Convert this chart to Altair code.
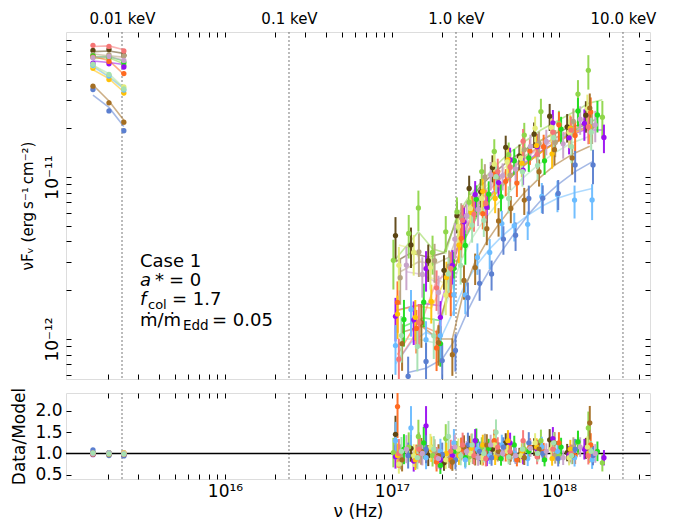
import altair as alt
import pandas as pd

FONT = "DejaVu Sans"

# ---------------- axis ranges / ticks ----------------
X_DOMAIN = [1.117e15, 3.51e18]
Y_DOMAIN = [5.66e-13, 7.86e-11]
R_DOMAIN = [0.40, 2.42]
X_TICKS = [2e15, 3e15, 4e15, 5e15, 6e15, 7e15, 8e15, 9e15,
           1e16, 2e16, 3e16, 4e16, 5e16, 6e16, 7e16, 8e16, 9e16,
           1e17, 2e17, 3e17, 4e17, 5e17, 6e17, 7e17, 8e17, 9e17,
           1e18, 2e18, 3e18]
Y_TICKS = [6e-13, 7e-13, 8e-13, 9e-13, 1e-12, 2e-12, 3e-12, 4e-12, 5e-12,
           6e-12, 7e-12, 8e-12, 9e-12, 1e-11, 2e-11, 3e-11, 4e-11, 5e-11,
           6e-11, 7e-11]
R_TICKS = [0.5, 1.0, 1.5, 2.0]
KEV_HZ = [2.418e15, 2.418e16, 2.418e17, 2.418e18]
KEV_LABELS = ["0.01 keV", "0.1 keV", "1.0 keV", "10.0 keV"]

# ---------------- series ----------------
SERIES = ["dkbrown", "tan", "lgreen", "green", "purple", "orange", "yellow",
          "pyellow", "lblue", "blue", "brown", "salmon", "mauve", "pgreen"]
COLORS = ["#5c4513", "#b5a27e", "#8fd64b", "#1fdc1f", "#9a0ff0", "#ff6a20",
          "#ffc107", "#e3ec78", "#6bbcff", "#5b7fd0", "#a46e22", "#f57575",
          "#c7a2c9", "#a5e0b0"]

UV_X = [1.62e15, 2.02e15, 2.48e15]          # Hz
UV_ERR = 0.03
# UV data / model (1e-12 erg s^-1 cm^-2)
DKBROWN_UV = [60.5, 61.3, 56.4]; DKBROWN_UVM = [59.5, 60.0, 58.0]
TAN_UV = [57.0, 57.0, 56.0];     TAN_UVM = [57.5, 56.0, 55.0]
LGREEN_UV = [55.0, 54.0, 49.0];  LGREEN_UVM = [54.0, 54.5, 50.0]
GREEN_UV = [56.0, 55.0, 51.0];   GREEN_UVM = [55.0, 55.5, 52.0]
PURPLE_UV = [50.5, 50.0, 47.8];  PURPLE_UVM = [52.0, 51.0, 49.5]
ORANGE_UV = [55.0, 51.7, 43.5];  ORANGE_UVM = [55.5, 52.5, 43.0]
YELLOW_UV = [47.0, 40.0, 33.0];  YELLOW_UVM = [46.0, 40.5, 33.5]
PYELLOW_UV = [48.5, 42.5, 36.0]; PYELLOW_UVM = [49.0, 42.0, 35.5]
LBLUE_UV = [49.0, 42.0, 34.4];   LBLUE_UVM = [48.0, 41.5, 35.0]
BLUE_UV = [34.7, 25.6, 19.3];    BLUE_UVM = [32.0, 26.9, 20.5]
BROWN_UV = [36.4, 28.7, 21.8];   BROWN_UVM = [37.0, 29.5, 22.4]
SALMON_UV = [65.0, 64.0, 60.0];  SALMON_UVM = [64.0, 64.5, 61.0]
MAUVE_UV = [54.6, 55.5, 52.5];   MAUVE_UVM = [55.0, 55.0, 53.0]
PGREEN_UV = [49.7, 43.0, 35.0];  PGREEN_UVM = [49.0, 43.5, 35.5]

# X-ray: frequency (1e17 Hz), model (1e-12), data/model ratio, fractional error
DKBROWN_X = [1.05, 1.3, 1.65, 2.05, 2.45, 2.9, 3.4, 4.0, 4.8, 5.8, 7.1, 8.8, 11.2, 14.5]
DKBROWN_M = [3.0, 3.4, 3.2, 3.4, 5.5, 7.2, 8.8, 10.4, 12.2, 14.0, 16.0, 18.0, 20.0, 21.5]
DKBROWN_R = [1.45, 1.12, 0.95, 0.78, 1.05, 1.18, 0.92, 1.10, 1.25, 0.96, 1.15, 1.32, 1.02, 1.12]
DKBROWN_E = [0.30, 0.28, 0.26, 0.24, 0.22, 0.20, 0.20, 0.19, 0.18, 0.18, 0.18, 0.19, 0.20, 0.22]

TAN_X = [1.12, 1.45, 1.8, 2.2, 2.6, 3.05, 3.6, 4.3, 5.1, 6.2, 7.6, 9.5, 12.2, 15.8]
TAN_M = [2.6, 3.0, 2.9, 3.2, 5.0, 6.6, 8.2, 9.8, 11.4, 13.4, 15.4, 17.4, 19.2, 20.5]
TAN_R = [0.92, 1.15, 1.05, 0.88, 1.12, 0.95, 1.22, 1.0, 0.9, 1.1, 1.05, 0.94, 1.15, 1.0]
TAN_E = [0.32, 0.30, 0.27, 0.25, 0.23, 0.21, 0.20, 0.19, 0.19, 0.18, 0.18, 0.19, 0.20, 0.22]

LGREEN_X = [1.02, 1.26, 1.44, 1.75, 2.1, 2.45, 2.9, 3.45, 4.1, 5.0, 6.2, 7.8, 10.0, 13.0, 15.0, 18.2]
LGREEN_M = [3.0, 3.9, 4.6, 3.6, 3.4, 5.8, 7.6, 9.4, 11.5, 14.0, 16.5, 19.5, 22.5, 26.0, 28.5, 30.0]
LGREEN_R = [1.02, 1.15, 1.40, 0.95, 1.35, 1.05, 0.92, 1.15, 1.25, 0.98, 1.1, 1.3, 0.95, 1.25, 1.6, 0.78]
LGREEN_E = [0.34, 0.30, 0.28, 0.27, 0.25, 0.23, 0.21, 0.20, 0.19, 0.19, 0.19, 0.20, 0.20, 0.22, 0.24, 0.26]

GREEN_X = [1.18, 1.55, 1.95, 2.35, 2.75, 3.2, 3.8, 4.5, 5.4, 6.6, 8.2, 10.3, 13.0, 17.0]
GREEN_M = [1.2, 1.35, 1.3, 2.6, 4.2, 5.6, 7.0, 8.6, 10.5, 12.5, 14.8, 17.2, 20.0, 23.0]
GREEN_R = [1.1, 1.25, 0.72, 1.05, 0.9, 1.3, 1.12, 0.88, 1.2, 1.05, 0.85, 1.15, 1.28, 1.05]
GREEN_E = [0.32, 0.30, 0.28, 0.26, 0.24, 0.22, 0.20, 0.19, 0.18, 0.18, 0.18, 0.19, 0.20, 0.22]

PURPLE_X = [1.05, 1.35, 1.6, 1.95, 2.3, 2.7, 3.15, 3.7, 4.35, 5.1, 6.1, 7.4, 9.2, 11.5, 14.2, 18.6]
PURPLE_M = [1.5, 1.6, 1.65, 1.6, 3.0, 4.6, 6.0, 7.4, 8.8, 10.2, 12.0, 14.0, 16.0, 18.0, 19.5, 19.5]
PURPLE_R = [0.92, 0.82, 1.65, 0.85, 0.95, 1.15, 1.3, 0.88, 1.05, 1.25, 0.92, 1.1, 1.35, 0.97, 1.1, 0.9]
PURPLE_E = [0.30, 0.30, 0.28, 0.26, 0.24, 0.22, 0.21, 0.20, 0.19, 0.19, 0.19, 0.20, 0.20, 0.21, 0.22, 0.20]

ORANGE_X = [1.08, 1.4, 1.85, 2.25, 2.6, 3.0, 3.5, 4.1, 4.8, 5.6, 6.7, 8.1, 10.0, 12.5, 15.5]
ORANGE_M = [0.8, 1.25, 1.1, 2.2, 3.8, 5.2, 6.6, 8.0, 9.4, 10.8, 12.6, 14.6, 16.8, 19.0, 21.0]
ORANGE_R = [2.1, 0.93, 0.8, 0.85, 1.1, 1.2, 0.9, 1.3, 1.0, 0.85, 1.15, 1.05, 1.25, 0.95, 1.2]
ORANGE_E = [0.35, 0.30, 0.28, 0.26, 0.24, 0.22, 0.20, 0.20, 0.19, 0.18, 0.18, 0.19, 0.20, 0.21, 0.23]

YELLOW_X = [1.08, 1.38, 1.72, 2.12, 2.52, 2.98, 3.5, 4.15, 4.95, 6.0, 7.35, 9.1, 11.7, 15.2]
YELLOW_M = [1.5, 1.6, 1.55, 2.4, 4.0, 5.4, 6.8, 8.2, 9.8, 11.6, 13.6, 15.8, 18.2, 20.5]
YELLOW_R = [0.95, 0.85, 1.1, 1.0, 0.95, 1.12, 1.2, 0.9, 1.3, 1.05, 1.15, 0.88, 1.1, 1.0]
YELLOW_E = [0.30, 0.28, 0.27, 0.25, 0.23, 0.21, 0.20, 0.19, 0.19, 0.18, 0.18, 0.19, 0.20, 0.22]

PYELLOW_X = [1.1, 1.35, 1.7, 2.1, 2.5, 2.95, 3.45, 4.1, 4.9, 5.9, 7.2, 9.0, 11.5, 14.8]
PYELLOW_M = [3.8, 3.6, 2.4, 2.2, 4.5, 6.4, 8.2, 10.0, 11.8, 13.8, 16.0, 18.4, 21.0, 23.0]
PYELLOW_R = [0.75, 0.95, 1.15, 0.85, 1.1, 1.0, 0.9, 1.2, 1.05, 0.95, 1.25, 1.1, 0.9, 1.15]
PYELLOW_E = [0.30, 0.28, 0.27, 0.25, 0.23, 0.21, 0.20, 0.19, 0.19, 0.18, 0.18, 0.19, 0.20, 0.22]

LBLUE_X = [1.05, 1.3, 1.6, 1.95, 2.35, 2.75, 3.25, 3.85, 4.55, 5.4, 6.5, 7.9, 9.8, 12.4, 15.8]
LBLUE_M = [0.7, 0.95, 1.1, 1.0, 1.5, 2.2, 2.9, 3.6, 4.3, 5.0, 5.8, 6.6, 7.4, 8.0, 8.5]
LBLUE_R = [1.3, 1.6, 0.9, 1.05, 1.25, 0.85, 1.1, 0.95, 1.2, 1.0, 0.88, 1.15, 1.05, 0.9, 0.85]
LBLUE_E = [0.34, 0.32, 0.30, 0.28, 0.26, 0.24, 0.22, 0.21, 0.20, 0.20, 0.20, 0.21, 0.22, 0.23, 0.25]

BLUE_X = [1.25, 1.6, 2.0, 2.4, 2.85, 3.35, 3.95, 4.65, 5.5, 6.6, 8.0, 9.9, 12.5, 16.0]
BLUE_M = [0.62, 0.66, 0.75, 1.0, 1.5, 2.1, 2.8, 3.6, 4.6, 5.9, 7.4, 9.0, 10.8, 12.5]
BLUE_R = [0.95, 1.1, 0.98, 0.85, 1.2, 1.05, 0.9, 1.15, 0.95, 1.25, 1.0, 0.88, 1.1, 0.95]
BLUE_E = [0.32, 0.30, 0.28, 0.26, 0.24, 0.22, 0.21, 0.20, 0.20, 0.20, 0.20, 0.21, 0.22, 0.24]

BROWN_X = [1.15, 1.5, 1.9, 2.3, 2.7, 3.15, 3.7, 4.35, 5.15, 6.2, 7.6, 9.4, 12.0, 15.3]
BROWN_M = [1.1, 1.2, 1.0, 1.0, 2.0, 3.0, 4.0, 5.1, 6.4, 8.0, 9.8, 11.8, 13.8, 15.5]
BROWN_R = [0.85, 1.05, 0.95, 0.8, 1.15, 0.92, 1.2, 1.05, 1.0, 0.9, 1.1, 1.25, 0.95, 1.72]
BROWN_E = [0.32, 0.30, 0.28, 0.26, 0.24, 0.22, 0.21, 0.20, 0.19, 0.19, 0.19, 0.20, 0.21, 0.23]

SALMON_X = [1.1, 1.45, 1.85, 2.25, 2.65, 3.1, 3.65, 4.3, 5.1, 6.1, 7.4, 9.2, 11.8, 15.0]
SALMON_M = [0.75, 1.15, 2.3, 2.6, 4.5, 6.2, 7.8, 9.4, 11.0, 12.8, 15.0, 17.2, 19.5, 21.5]
SALMON_R = [1.0, 1.1, 0.9, 1.05, 1.2, 0.95, 0.88, 1.15, 1.05, 1.3, 0.92, 1.1, 1.0, 0.95]
SALMON_E = [0.34, 0.30, 0.28, 0.26, 0.24, 0.22, 0.21, 0.20, 0.19, 0.19, 0.19, 0.20, 0.21, 0.22]

MAUVE_X = [1.22, 1.52, 1.9, 2.38, 2.8, 3.28, 3.9, 4.6, 5.5, 6.75, 8.4, 10.6, 13.4, 16.5]
MAUVE_M = [2.6, 2.5, 2.2, 3.6, 5.5, 7.0, 8.6, 10.2, 11.8, 13.8, 15.8, 17.8, 19.8, 21.0]
MAUVE_R = [1.1, 1.0, 0.88, 1.15, 1.05, 0.9, 1.2, 1.0, 0.95, 1.12, 1.05, 0.9, 1.15, 1.0]
MAUVE_E = [0.30, 0.28, 0.27, 0.25, 0.23, 0.21, 0.20, 0.19, 0.19, 0.18, 0.18, 0.19, 0.20, 0.22]

PGREEN_X = [1.14, 1.42, 1.78, 2.18, 2.58, 3.02, 3.55, 4.2, 5.0, 6.05, 7.45, 9.3, 11.9, 15.6]
PGREEN_M = [1.0, 1.0, 0.95, 1.8, 3.0, 4.2, 5.4, 6.7, 8.0, 9.8, 11.8, 14.0, 16.2, 18.0]
PGREEN_R = [1.05, 0.9, 1.1, 1.4, 0.95, 1.2, 1.0, 1.5, 0.92, 1.1, 1.0, 1.25, 0.95, 1.05]
PGREEN_E = [0.32, 0.30, 0.28, 0.26, 0.24, 0.22, 0.21, 0.20, 0.19, 0.19, 0.19, 0.20, 0.21, 0.23]

TABLE = [
    ("dkbrown", DKBROWN_UV, DKBROWN_UVM, DKBROWN_X, DKBROWN_M, DKBROWN_R, DKBROWN_E),
    ("tan", TAN_UV, TAN_UVM, TAN_X, TAN_M, TAN_R, TAN_E),
    ("lgreen", LGREEN_UV, LGREEN_UVM, LGREEN_X, LGREEN_M, LGREEN_R, LGREEN_E),
    ("green", GREEN_UV, GREEN_UVM, GREEN_X, GREEN_M, GREEN_R, GREEN_E),
    ("purple", PURPLE_UV, PURPLE_UVM, PURPLE_X, PURPLE_M, PURPLE_R, PURPLE_E),
    ("orange", ORANGE_UV, ORANGE_UVM, ORANGE_X, ORANGE_M, ORANGE_R, ORANGE_E),
    ("yellow", YELLOW_UV, YELLOW_UVM, YELLOW_X, YELLOW_M, YELLOW_R, YELLOW_E),
    ("pyellow", PYELLOW_UV, PYELLOW_UVM, PYELLOW_X, PYELLOW_M, PYELLOW_R, PYELLOW_E),
    ("lblue", LBLUE_UV, LBLUE_UVM, LBLUE_X, LBLUE_M, LBLUE_R, LBLUE_E),
    ("blue", BLUE_UV, BLUE_UVM, BLUE_X, BLUE_M, BLUE_R, BLUE_E),
    ("brown", BROWN_UV, BROWN_UVM, BROWN_X, BROWN_M, BROWN_R, BROWN_E),
    ("salmon", SALMON_UV, SALMON_UVM, SALMON_X, SALMON_M, SALMON_R, SALMON_E),
    ("mauve", MAUVE_UV, MAUVE_UVM, MAUVE_X, MAUVE_M, MAUVE_R, MAUVE_E),
    ("pgreen", PGREEN_UV, PGREEN_UVM, PGREEN_X, PGREEN_M, PGREEN_R, PGREEN_E),
]

rows = []
for name, uv, uvm, xs, ms, rs, es in TABLE:
    for x, d, m in zip(UV_X, uv, uvm):
        r = d / m
        rows.append(dict(s=name, grp=name + "_uv", x=x, y=d * 1e-12,
                         lo=d * (1 - UV_ERR) * 1e-12, hi=d * (1 + UV_ERR) * 1e-12,
                         m=m * 1e-12, r=r, rlo=r * (1 - UV_ERR), rhi=r * (1 + UV_ERR)))
    for x, m, r, e in zip(xs, ms, rs, es):
        y = m * r
        rows.append(dict(s=name, grp=name + "_xr", x=x * 1e17, y=y * 1e-12,
                         lo=y * (1 - e) * 1e-12, hi=y * (1 + e) * 1e-12,
                         m=m * 1e-12, r=r, rlo=r * (1 - e), rhi=r * (1 + e)))
df = pd.DataFrame(rows)
kev = pd.DataFrame({"x": KEV_HZ, "lab": KEV_LABELS})
one = pd.DataFrame({"r": [1.0]})

W, H_TOP, H_BOT = 584, 347, 86
TICK = 5

xscale = alt.Scale(type="log", domain=X_DOMAIN, nice=False)
yscale = alt.Scale(type="log", domain=Y_DOMAIN, nice=False)
rscale = alt.Scale(domain=R_DOMAIN, nice=False, zero=False)
color = alt.Color("s:N", scale=alt.Scale(domain=SERIES, range=COLORS), legend=None)

KEV_TEST = "round(datum.value / pow(10, floor(log(datum.value) / LN10)) * 1000) == 2418"
DEC_LABEL = ("abs(log(datum.value)/LN10 - 16) < 0.001 ? '10¹⁶' : "
             "abs(log(datum.value)/LN10 - 17) < 0.001 ? '10¹⁷' : "
             "abs(log(datum.value)/LN10 - 18) < 0.001 ? '10¹⁸' : ''")
Y_LABEL = ("abs(log(datum.value)/LN10 + 11) < 0.001 ? '10⁻¹¹' : "
           "abs(log(datum.value)/LN10 + 12) < 0.001 ? '10⁻¹²' : ''")
KEV_LABEL = ("(" + KEV_TEST + ") ? (datum.value < 1e16 ? '0.01 keV' : datum.value < 1e17 ? '0.1 keV' : "
             "datum.value < 1e18 ? '1.0 keV' : '10.0 keV') : ''")

common = dict(tickSize=TICK, offset=-TICK, domain=False, grid=False, tickColor="black",
              labelColor="black", labelFont=FONT, titleFont=FONT, labelFlush=False,
              labelOverlap=False, tickWidth=1)

def ax_x_bottom(labels, title=None):
    if labels:
        return alt.Axis(orient="bottom", values=X_TICKS, labelExpr=DEC_LABEL, labelFontSize=17,
                        labelPadding=4, title=title, titleFontSize=17, titleFontWeight="normal",
                        titlePadding=4, **common)
    return alt.Axis(orient="bottom", values=X_TICKS, labels=False, title=None, **common)

def ax_x_top(labels):
    if labels:
        return alt.Axis(orient="top", values=X_TICKS + KEV_HZ, labelExpr=KEV_LABEL, labelFontSize=15,
                        labelPadding=6, title=None,
                        tickOpacity={"condition": {"test": KEV_TEST, "value": 0}, "value": 1},
                        **common)
    return alt.Axis(orient="top", values=X_TICKS, labels=False, title=None, **common)

# ---------------- top panel ----------------
base_top = alt.Chart(df)
top_lines = base_top.mark_line(strokeWidth=1.6, opacity=0.55, clip=True).encode(
    x=alt.X("x:Q", scale=xscale, axis=None),
    y=alt.Y("m:Q", scale=yscale, axis=None),
    color=color, detail="grp:N")
top_err = base_top.mark_rule(strokeWidth=2, opacity=0.95, clip=True).encode(
    x=alt.X("x:Q", scale=xscale, axis=None),
    y=alt.Y("lo:Q", scale=yscale, axis=None), y2="hi:Q", color=color)
top_pts = base_top.mark_circle(size=28, opacity=1, clip=True).encode(
    x=alt.X("x:Q", scale=xscale, axis=ax_x_bottom(False)),
    y=alt.Y("y:Q", scale=yscale, axis=alt.Axis(
        orient="left", values=Y_TICKS, labelExpr=Y_LABEL, labelAngle=270, labelAlign="center",
        labelBaseline="bottom", labelFontSize=17, labelPadding=5,
        title="νFᵥ (erg\u2009s⁻¹\u2009cm⁻²)", titleFontSize=15, titleFontWeight="normal",
        titlePadding=8, **common)),
    color=color)
top_frame = base_top.mark_point(opacity=0, clip=True).encode(
    x=alt.X("x:Q", scale=xscale, axis=ax_x_top(True)),
    y=alt.Y("y:Q", scale=yscale, axis=alt.Axis(orient="right", values=Y_TICKS, labels=False,
                                                 title=None, **common)))
top_kev = alt.Chart(kev).mark_rule(strokeDash=[2, 2], color="#555555", strokeWidth=0.8).encode(
    x=alt.X("x:Q", scale=xscale, axis=None))

def txt(s, x, y, size=18, style="normal"):
    return alt.Chart(pd.DataFrame({"t": [s]})).mark_text(
        align="left", baseline="alphabetic", font=FONT, fontSize=size, fontStyle=style,
        color="black").encode(x=alt.value(x), y=alt.value(y), text="t:N")

notes = [
    txt("Case 1", 74, 235),
    txt("a", 74, 254, style="italic"), txt("*", 89, 254), txt("= 0", 103, 254),
    txt("f", 74, 273, style="italic"), txt("col", 82, 277, size=13), txt("= 1.7", 106, 273),
    txt("ṁ/ṁ", 74, 294), txt("Edd", 117, 298, size=13.5), txt("= 0.05", 146, 294),
]

top = alt.layer(top_kev, top_lines, top_err, top_pts, top_frame, *notes).resolve_axis(
    x="independent", y="independent").properties(width=W, height=H_TOP)

# ---------------- bottom panel ----------------
base_bot = alt.Chart(df)
bot_kev = alt.Chart(kev).mark_rule(strokeDash=[2, 2], color="#555555", strokeWidth=0.8).encode(
    x=alt.X("x:Q", scale=xscale, axis=None))
bot_one = alt.Chart(one).mark_rule(color="black", strokeWidth=1.5).encode(
    y=alt.Y("r:Q", scale=rscale, axis=None))
bot_err = base_bot.mark_rule(strokeWidth=2, opacity=0.95, clip=True).encode(
    x=alt.X("x:Q", scale=xscale, axis=None),
    y=alt.Y("rlo:Q", scale=rscale, axis=None), y2="rhi:Q", color=color)
bot_pts = base_bot.mark_circle(size=28, opacity=1, clip=True).encode(
    x=alt.X("x:Q", scale=xscale, axis=ax_x_bottom(True, "ν (Hz)")),
    y=alt.Y("r:Q", scale=rscale, axis=alt.Axis(
        orient="left", values=R_TICKS, format=".1f", labelFontSize=17, labelPadding=4,
        title="Data/Model", titleFontSize=17, titleFontWeight="normal", titlePadding=6,
        **common)),
    color=color)
bot_frame = base_bot.mark_point(opacity=0, clip=True).encode(
    x=alt.X("x:Q", scale=xscale, axis=ax_x_top(False)),
    y=alt.Y("r:Q", scale=rscale, axis=alt.Axis(orient="right", values=R_TICKS, labels=False,
                                                 title=None, **common)))

bottom = alt.layer(bot_kev, bot_one, bot_err, bot_pts, bot_frame).resolve_axis(
    x="independent", y="independent").properties(width=W, height=H_BOT)

chart = alt.vconcat(top, bottom, spacing=6).properties(
    padding={"left": 10, "top": 10, "right": 5, "bottom": 5}
).configure_view(stroke="black", strokeWidth=1.2).configure(background="white")

chart.save("out.html", embed_options={"renderer": "svg", "actions": False})
